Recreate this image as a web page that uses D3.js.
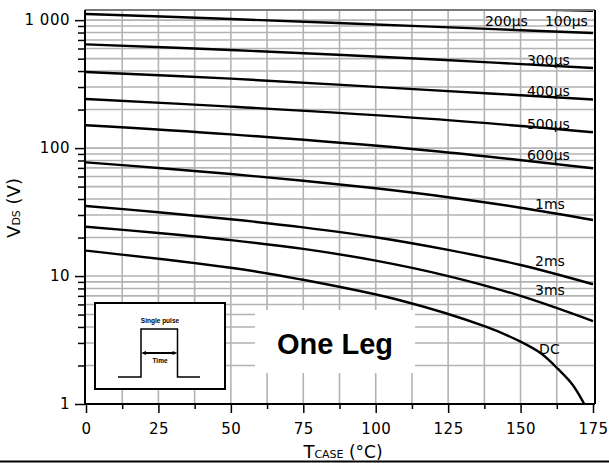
<!DOCTYPE html>
<html>
<head>
<meta charset="utf-8">
<script src="https://cdn.jsdelivr.net/npm/d3@7"></script>
<style>
  html, body { margin: 0; padding: 0; background: #fff; }
  svg { display: block; }
</style>
</head>
<body>
<svg id="chart" width="609" height="463"></svg>
<script>
// Safe operating area vs. case temperature, one curve per pulse width
const seriesNames = ["100µs", "200µs", "300µs", "400µs", "500µs", "600µs", "1ms", "2ms", "3ms", "DC"];

const tShort = [0, 50, 119, 175];
const v100us = [1480, 1360, 1260, 1185];
const v200us = [1117, 1020, 889, 793];
const v300us = [647, 584, 494, 423];
const v400us = [393, 349, 284, 240];
const v500us = [242, 211, 169, 133];
const v600us = [151, 128, 95.4, 69.5];

const tGrid = [0, 25, 50, 75, 100, 125, 150, 175];
const v1ms = [77.4, 69.9, 62.7, 55.6, 48.5, 41.3, 34.2, 27.4];
const v2ms = [35.3, 31.5, 27.8, 24.0, 20.1, 16.0, 12.2, 8.63];
const v3ms = [24.3, 21.7, 19.1, 16.3, 13.2, 10.0, 7.0, 4.45];

const tDC = [0, 50, 74, 108, 138, 150, 157, 163, 168, 172];
const vDC = [15.8, 11.6, 9.43, 6.5, 4.02, 3.07, 2.49, 1.87, 1.41, 1.0];

const seriesT = [tShort, tShort, tShort, tShort, tShort, tShort, tGrid, tGrid, tGrid, tDC];
const seriesV = [v100us, v200us, v300us, v400us, v500us, v600us, v1ms, v2ms, v3ms, vDC];

const xTicks = [0, 25, 50, 75, 100, 125, 150, 175];
const xMinorTicks = [12.5, 37.5, 62.5, 87.5, 112.5, 137.5, 162.5];
const yTicks = [1, 10, 100, 1000];
const yTickLabels = ["1", "10", "100", "1 000"];

// label anchor (left end of baseline) for each curve: [temperature, voltage]
const labelPos = [[158.4, 900], [137.7, 900], [152.2, 446], [152.2, 255], [152.2, 141], [152.2, 80.7],
                  [155, 33.4], [155, 11.98], [155, 7.11], [156.4, 2.46]];

const svg = d3.select("#chart");
const plotL = 85, plotR = 595, plotT = 10, plotB = 404;
const sans = "DejaVu Sans, sans-serif";
const arial = "Liberation Sans, Arial, sans-serif";

const x = d3.scaleLinear().domain([0, 175]).range([86, 593]);
const y = d3.scaleLog().domain([1, 1200]).range([plotB, plotT]);

// minor log ticks 2..9 in each decade
const yMinor = [];
[1, 10, 100].forEach(d => { for (let k = 2; k <= 9; k++) yMinor.push(d * k); });

svg.append("defs").append("clipPath").attr("id", "plotClip")
  .append("rect").attr("x", plotL).attr("y", plotT).attr("width", plotR - plotL).attr("height", plotB - plotT);

// grid
const grid = svg.append("g").attr("stroke", "#b3b3b3").attr("stroke-width", 1.6);
grid.selectAll("line.h").data(yMinor.concat([10, 100, 1000]).filter(v => v <= 1200)).join("line")
  .attr("class", "h")
  .attr("x1", plotL).attr("x2", plotR).attr("y1", d => y(d)).attr("y2", d => y(d));
grid.selectAll("line.v").data(xTicks.slice(1, -1).concat(xMinorTicks)).join("line")
  .attr("class", "v")
  .attr("y1", plotT).attr("y2", plotB).attr("x1", d => x(d)).attr("x2", d => x(d));

// blank area behind the title
svg.append("rect").attr("x", 255).attr("y", 310).attr("width", 160).attr("height", 63).attr("fill", "#fff");

// curves
const line = d3.line().curve(d3.curveCatmullRom.alpha(0.5)).x(d => x(d[0])).y(d => y(d[1]));
svg.append("g").attr("clip-path", "url(#plotClip)")
  .selectAll("path").data(seriesV.map((vals, i) => vals.map((v, j) => [seriesT[i][j], v]))).join("path")
  .attr("d", line).attr("fill", "none").attr("stroke", "#000").attr("stroke-width", 2.4);

// frame
svg.append("line").attr("x1", plotL).attr("x2", plotR).attr("y1", plotT).attr("y2", plotT)
  .attr("stroke", "#7a7a7a").attr("stroke-width", 2);
svg.append("line").attr("x1", plotR).attr("x2", plotR).attr("y1", plotT).attr("y2", plotB)
  .attr("stroke", "#000").attr("stroke-width", 2);
svg.append("line").attr("x1", plotL).attr("x2", plotL).attr("y1", plotT).attr("y2", plotB + 1)
  .attr("stroke", "#000").attr("stroke-width", 2);
svg.append("line").attr("x1", plotL).attr("x2", plotR).attr("y1", plotB).attr("y2", plotB)
  .attr("stroke", "#000").attr("stroke-width", 2.2);

// axes
const yAxis = svg.append("g").attr("transform", `translate(${plotL},0)`)
  .call(d3.axisLeft(y).tickValues(yTicks).tickSize(10).tickPadding(5)
    .tickFormat((d, i) => yTickLabels[i]));
const yAxisMinor = svg.append("g").attr("transform", `translate(${plotL},0)`)
  .call(d3.axisLeft(y).tickValues(yMinor).tickSize(7).tickFormat(""));
const xAxis = svg.append("g").attr("transform", `translate(0,${plotB})`)
  .call(d3.axisBottom(x).tickValues(xTicks).tickSize(9).tickPadding(10).tickFormat(d3.format("d")));
const xAxisMinor = svg.append("g").attr("transform", `translate(0,${plotB})`)
  .call(d3.axisBottom(x).tickValues(xMinorTicks).tickSize(5).tickFormat(""));
[yAxis, yAxisMinor, xAxis, xAxisMinor].forEach(g => {
  g.select(".domain").remove();
  g.selectAll(".tick line").attr("stroke", "#000").attr("stroke-width", 1.5);
  g.selectAll(".tick text").style("font-family", sans).style("font-size", "15px")
    .style("letter-spacing", "0.5px").attr("fill", "#000");
});

// curve labels
svg.append("g").selectAll("text").data(seriesNames).join("text")
  .attr("x", (d, i) => x(labelPos[i][0])).attr("y", (d, i) => y(labelPos[i][1]))
  .style("font-family", sans).style("font-size", "14px").text(d => d);

// axis titles
const yTitle = svg.append("text").attr("transform", "translate(20,208) rotate(-90)")
  .attr("text-anchor", "middle").style("font-family", sans).style("font-size", "18px");
yTitle.append("tspan").text("V");
yTitle.append("tspan").style("font-size", "11px").text("DS");
yTitle.append("tspan").text(" (V)");

const xTitle = svg.append("text").attr("x", 343).attr("y", 458)
  .attr("text-anchor", "middle").style("font-family", sans).style("font-size", "18px");
xTitle.append("tspan").text("T");
xTitle.append("tspan").style("font-size", "11px").text("CASE");
xTitle.append("tspan").style("font-size", "17px").text("  (°C)");

// title
svg.append("text").attr("x", 335).attr("y", 354).attr("text-anchor", "middle")
  .style("font-family", arial).style("font-weight", "bold")
  .style("font-size", "29px").text("One Leg");

// single pulse inset
const inset = svg.append("g");
inset.append("rect").attr("x", 95).attr("y", 303).attr("width", 130).attr("height", 86)
  .attr("fill", "#fff").attr("stroke", "#000").attr("stroke-width", 2);
inset.append("path").attr("d", "M118,377 H141 V329 H177.5 V377 H200")
  .attr("fill", "none").attr("stroke", "#000").attr("stroke-width", 1.5);
inset.append("line").attr("x1", 144).attr("x2", 175).attr("y1", 353).attr("y2", 353)
  .attr("stroke", "#000").attr("stroke-width", 2);
inset.append("path").attr("d", "M141,353 L146,351 L146,355 Z M177.5,353 L172.5,351 L172.5,355 Z").attr("fill", "#000");
inset.append("text").attr("x", 160).attr("y", 323).attr("text-anchor", "middle")
  .style("font-family", arial).style("font-weight", "bold")
  .style("font-size", "6.5px").text("Single pulse");
inset.append("text").attr("x", 160).attr("y", 363).attr("text-anchor", "middle")
  .style("font-family", arial).style("font-weight", "bold")
  .style("font-size", "6.5px").text("Time");

// bottom rule
svg.append("line").attr("x1", 0).attr("x2", 609).attr("y1", 461.5).attr("y2", 461.5)
  .attr("stroke", "#000").attr("stroke-width", 2);
</script>
</body>
</html>
